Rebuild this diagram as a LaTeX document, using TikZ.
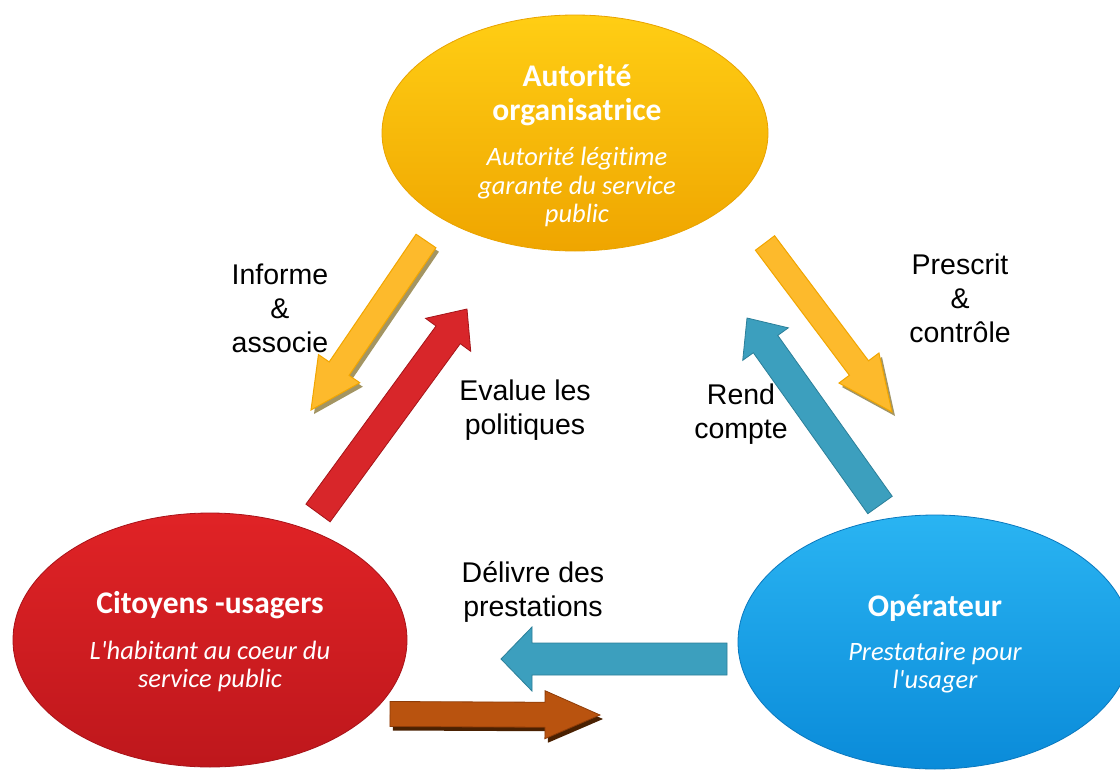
\documentclass[tikz,border=0pt]{standalone}
\usepackage{fontspec}
\setmainfont{Liberation Sans}
\newfontfamily\calib[Ligatures=NoCommon]{Carlito}
\usetikzlibrary{calc,shapes.geometric}
\definecolor{orTop}{HTML}{FFCE14}
\definecolor{orBot}{HTML}{EFA500}
\definecolor{orEdge}{HTML}{E9A300}
\definecolor{rdTop}{HTML}{E02326}
\definecolor{rdBot}{HTML}{BE171C}
\definecolor{rdEdge}{HTML}{A81218}
\definecolor{blTop}{HTML}{2AB4F2}
\definecolor{blBot}{HTML}{0A8BD9}
\definecolor{blEdge}{HTML}{0A78BE}
\definecolor{arOr}{HTML}{FDBA2C}
\definecolor{arOrEdge}{HTML}{F2A600}
\definecolor{arOrSh}{HTML}{8C7B3C}
\definecolor{arRd}{HTML}{D8262A}
\definecolor{arRdEdge}{HTML}{A51418}
\definecolor{arBl}{HTML}{3C9FBE}
\definecolor{arBlEdge}{HTML}{2B7F99}
\definecolor{arBr}{HTML}{B9530F}
\definecolor{arBrEdge}{HTML}{8E3C08}
\definecolor{arBrSh}{HTML}{4A2102}
\tikzset{
  bigell/.style={ellipse, inner sep=0pt, minimum width=394pt, minimum height=250pt, line width=0.8pt},
  title/.style={font=\calib\bfseries\fontsize{31.5}{35}\selectfont, text=white, anchor=base, inner sep=0pt},
  sub/.style={font=\calib\itshape\fontsize{26.5}{28.5}\selectfont, text=white, anchor=base, inner sep=0pt},
  lbl/.style={font=\fontsize{28.5}{34}\selectfont, text=black, align=center, anchor=base, inner sep=0pt},
  orarrow/.style={fill=arOr, draw=arOrEdge, line width=1pt, line join=miter},
  orshadow/.style={fill=arOrSh, opacity=0.8},
  rdarrow/.style={fill=arRd, draw=arRdEdge, line width=0.8pt},
  blarrow/.style={fill=arBl, draw=arBlEdge, line width=0.8pt},
  brarrow/.style={fill=arBr, draw=arBrEdge, line width=0.8pt},
  brshadow/.style={fill=arBrSh},
  noshadow/.style={opacity=0}
}
% #1 tail, #2 tip, #3 half shaft, #4 half head, #5 head length, #6 body style, #7 shadow style
\newcommand\blockarrow[7]{%
  \coordinate (#1-#2-n) at ($(#2)!#5!(#1)$);
  \fill[#7, transform canvas={shift={(3pt,-4pt)}}]
    ($(#1)!#3!90:(#2)$) -- ($(#1-#2-n)!#3!90:(#2)$) -- ($(#1-#2-n)!#4!90:(#2)$)
    -- (#2) -- ($(#1-#2-n)!#4!-90:(#2)$) -- ($(#1-#2-n)!#3!-90:(#2)$)
    -- ($(#1)!#3!-90:(#2)$) -- cycle;
  \path[#6]
    ($(#1)!#3!90:(#2)$) -- ($(#1-#2-n)!#3!90:(#2)$) -- ($(#1-#2-n)!#4!90:(#2)$)
    -- (#2) -- ($(#1-#2-n)!#4!-90:(#2)$) -- ($(#1-#2-n)!#3!-90:(#2)$)
    -- ($(#1)!#3!-90:(#2)$) -- cycle;
}
\begin{document}
\begin{tikzpicture}[x=1pt,y=-1pt]
\useasboundingbox (0,0) rectangle (1120,771);
\clip (0,0) rectangle (1120,771);
\fill[white] (0,0) rectangle (1120,771);

% ellipses
\node[bigell, minimum width=386pt, minimum height=236pt, top color=orTop, bottom color=orBot, draw=orEdge] (ao) at (575,133) {};
\node[bigell, minimum height=254pt, top color=rdTop, bottom color=rdBot, draw=rdEdge] (cu) at (210,640) {};
\node[bigell, minimum height=254pt, top color=blTop, bottom color=blBot, draw=blEdge] (op) at (935,642) {};

% ellipse texts
\node[title] (ao1) at (577,86) {Autorité};
\node[title] (ao2) at (577,120) {organisatrice};
\node[sub] (ao3) at (577,165) {Autorité légitime};
\node[sub] (ao4) at (577,194) {garante du service};
\node[sub] (ao5) at (577,222) {public};

\node[title] (cu1) at (210,613) {Citoyens -usagers};
\node[sub] (cu2) at (210,659) {L'habitant au coeur du};
\node[sub] (cu3) at (210,687) {service public};

\node[title] (op1) at (935,616) {Opérateur};
\node[sub] (op2) at (935,660) {Prestataire pour};
\node[sub] (op3) at (935,688) {l'usager};

% arrow end points
\coordinate (a1t) at (426,241);  \coordinate (a1h) at (311,410);
\coordinate (a2t) at (318,513);  \coordinate (a2h) at (467,309);
\coordinate (a3t) at (765,243);  \coordinate (a3h) at (892,412);
\coordinate (a4t) at (880,505);  \coordinate (a4h) at (747,318);
\coordinate (a5t) at (727,659);  \coordinate (a5h) at (501,659);
\coordinate (a6t) at (390,714);  \coordinate (a6h) at (600,715);

\blockarrow{a1t}{a1h}{12pt}{25pt}{50pt}{orarrow}{orshadow}
\blockarrow{a3t}{a3h}{12pt}{25pt}{55pt}{orarrow}{orshadow}
\blockarrow{a2t}{a2h}{15pt}{28pt}{32pt}{rdarrow}{noshadow}
\blockarrow{a4t}{a4h}{15pt}{28pt}{32pt}{blarrow}{noshadow}
\blockarrow{a5t}{a5h}{16pt}{32pt}{31pt}{blarrow}{noshadow}
\blockarrow{a6t}{a6h}{12.5pt}{24pt}{55pt}{brarrow}{brshadow}

% labels (anchor base = baseline of last line)
\node[lbl] (l1) at (280,352) {Informe\\\&\\associe};
\node[lbl] (l2) at (525,434) {Evalue les\\politiques};
\node[lbl] (l3) at (960,342) {Prescrit\\\&\\contrôle};
\node[lbl] (l4) at (741,438) {Rend\\compte};
\node[lbl] (l5) at (533,616) {Délivre des\\prestations};
\end{tikzpicture}
\end{document}
